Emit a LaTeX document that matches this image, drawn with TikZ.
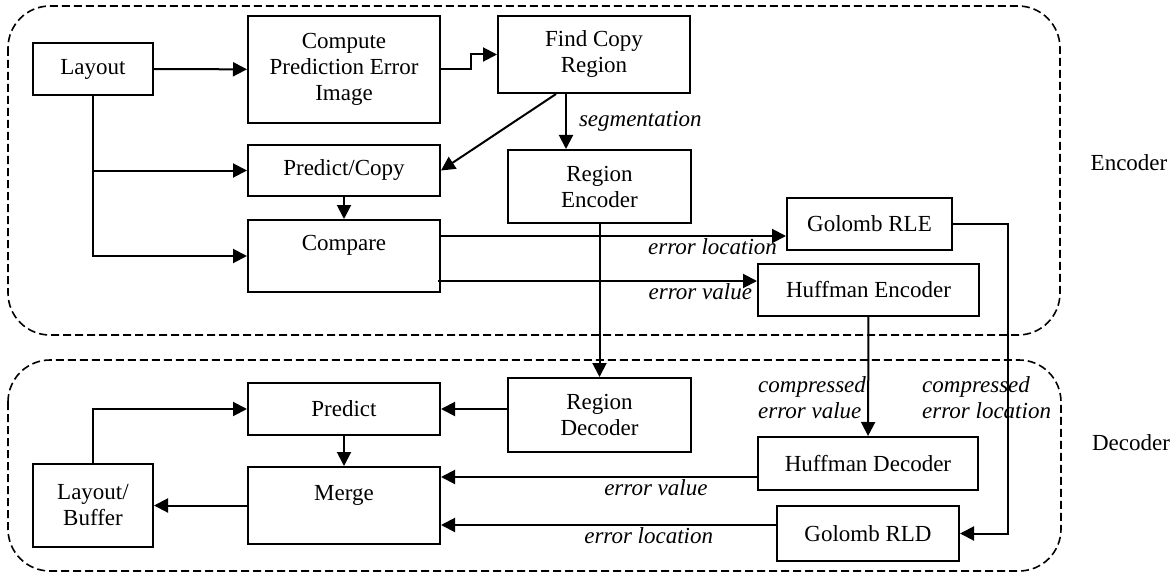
\documentclass[tikz,border=0pt]{standalone}
\usepackage{fontspec}
\setmainfont{Liberation Serif}
\usetikzlibrary{arrows.meta}

\begin{document}
\fontsize{23}{26}\selectfont
\begin{tikzpicture}[x=1pt, y=-1pt,
  blk/.style={draw, line width=2pt, align=center, inner sep=2pt},
  arr/.style={line width=2pt, -{Triangle[length=14pt,width=14pt]}},
  lbl/.style={font=\itshape, inner sep=2pt},
  zone/.style={dash pattern=on 8pt off 4pt, line width=1.6pt, rounded corners=42pt}]

\useasboundingbox (0,0) rectangle (1175,575);

% Encoder and decoder parts
\draw[zone] (8,6) rectangle (1060,335);
\draw[zone] (8,360) rectangle (1061,571);
\node (enc) at (1129,163) {Encoder};
\node (dec) at (1131,443) {Decoder};

% Encoder blocks
\node[blk, minimum width=120pt, minimum height=52pt] (layout) at (93,69) {Layout};
\node[blk, minimum width=192pt, minimum height=107pt] (compute) at (344,69.5) {Compute\\Prediction Error\\Image};
\node[blk, minimum width=192pt, minimum height=77pt] (findcopy) at (594,54.5) {Find Copy\\Region};
\node[blk, minimum width=192pt, minimum height=51pt] (predcopy) at (344,170.5) {Predict/Copy};
\node[blk, minimum width=192pt, minimum height=72pt] (compare) at (344,256) {Compare\\\mbox{}};
\node[blk, minimum width=183pt, minimum height=73pt] (regionenc) at (599.5,186.5) {Region\\Encoder};
\node[blk, minimum width=165pt, minimum height=52pt] (golombrle) at (869.5,224) {Golomb RLE};
\node[blk, minimum width=221pt, minimum height=52pt] (huffenc) at (868.5,290) {Huffman Encoder};

% Decoder blocks
\node[blk, minimum width=183pt, minimum height=74pt] (regiondec) at (599.5,415) {Region\\Decoder};
\node[blk, minimum width=192pt, minimum height=52pt] (predict) at (344,409) {Predict};
\node[blk, minimum width=192pt, minimum height=77pt] (merge) at (344,505.5) {Merge\\\mbox{}};
\node[blk, minimum width=120pt, minimum height=83pt] (buffer) at (93,505.5) {Layout/\\Buffer};
\node[blk, minimum width=220pt, minimum height=53pt] (huffdec) at (868,463.5) {Huffman Decoder};
\node[blk, minimum width=182pt, minimum height=55pt] (golombrld) at (868,533.5) {Golomb RLD};

% Helper points
\coordinate (seg) at ([xshift=-28pt]findcopy.south);
\coordinate (eloc) at ([yshift=20pt]compare.east);
\coordinate (eval) at ([yshift=-25pt]compare.east);
\coordinate (mval) at ([yshift=28.5pt]merge.east);
\coordinate (mloc) at ([yshift=-19.5pt]merge.east);

% Encoder connectors
\draw[arr] (layout) -- (compute);
\draw[arr] (compute.east) -- ++(30,0) |- (findcopy.west);
\draw[arr] ([xshift=-38pt]findcopy.south) -- (predcopy.east);
\draw[arr] (seg) -- (seg |- regionenc.north) node[lbl, midway, right, xshift=10pt] {segmentation};
\draw[arr] (layout.south) |- (compare.west);
\draw[arr] (layout.south |- predcopy.west) -- (predcopy.west);
\draw[arr] (predcopy) -- (compare);
\draw[arr] (eloc) -- (eloc -| golombrle.west) node[lbl, pos=1, anchor=north east, xshift=-6pt] {error location};
\draw[arr] ([xshift=-3pt]eval) -- (eval -| huffenc.west) node[lbl, pos=1, anchor=north east, xshift=-2pt] {error value};

% Encoder to decoder
\draw[arr] (regionenc) -- (regiondec);
\draw[arr] (huffenc) -- (huffdec);
\draw[arr] (golombrle.east) -- ++(55,0) |- (golombrld.east);
\node[lbl, align=left, anchor=west] (cval) at (756,398) {compressed\\error value};
\node[lbl, align=left, anchor=west] (cloc) at (920,398) {compressed\\error location};

% Decoder connectors
\draw[arr] (regiondec.west |- predict.east) -- (predict.east);
\draw[arr] (predict) -- (merge);
\draw[arr] (merge) -- (buffer);
\draw[arr] (buffer.north) |- (predict.west);
\draw[arr] (mval -| huffdec.west) -- (mval) node[lbl, pos=0.32, below] {error value};
\draw[arr] (mloc -| golombrld.west) -- (mloc) node[lbl, pos=0.38, below] {error location};

\end{tikzpicture}
\end{document}
